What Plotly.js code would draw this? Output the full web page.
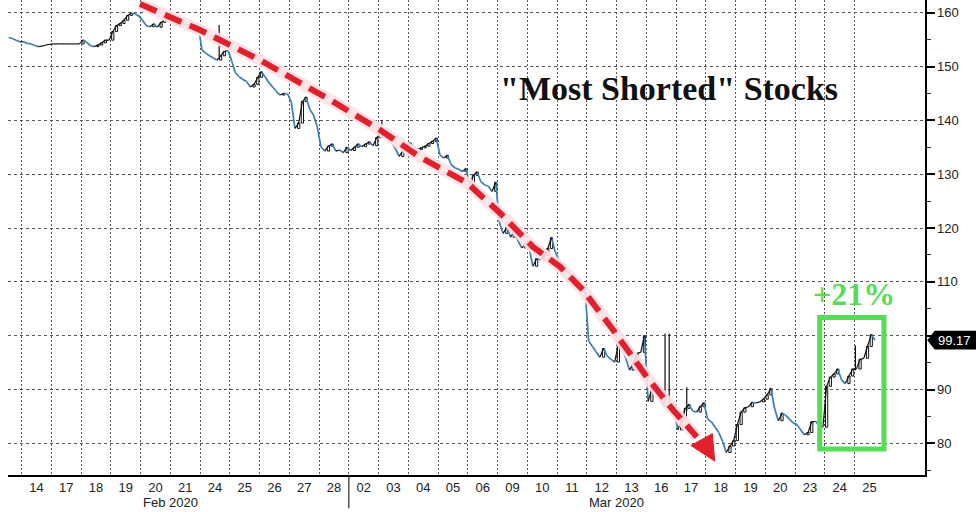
<!DOCTYPE html>
<html><head><meta charset="utf-8">
<script src="https://cdn.plot.ly/plotly-3.0.1.min.js"></script>
<style>html,body{margin:0;padding:0;background:#fff}#chart{width:976px;height:512px}</style>
</head><body><div id="chart"></div>
<script>
// ---- tick labels / categories ----
const dayLabels = ['14','17','18','19','20','21','24','25','26','27','28','02','03','04','05','06','09','10','11','12','13','16','17','18','19','20','23','24','25'];
const monthLabels = ['Feb 2020', 'Mar 2020'];
const monthCenterSession = [5, 20];
const monthBreakSession = 11;
const yTickVals = [80, 90, 100, 110, 120, 130, 140, 150, 160];
const yTickText = ['80', '90', '', '110', '120', '130', '140', '150', '160']; // 100 is hidden under the last-price tag

// ---- intraday price samples (8 per session) ----
const feb13 = [null,null,null,null,155.4,155.2,154.9,154.6];
const feb14 = [154.6,154.3,154.2,153.9,153.7,153.8,154.0,154.1];
const feb17 = [154.2,154.2,154.2,154.2,154.2,154.2,154.2,154.2];
const feb18 = [154.9,154.5,153.9,153.7,154.0,154.4,154.9,154.9];
const feb19 = [156.5,157.6,158.0,158.6,159.5,159.9,159.8,159.4];
const feb20 = [158.6,157.6,157.4,157.9,157.3,158.2,158.7,159.2];
const feb21 = [158.3,157.7,158.0,157.9,157.8,157.8,157.6,157.5];
const feb24 = [153.1,152.5,152.0,151.6,151.2,152.0,152.8,153.0];
const feb25 = [151.0,148.8,148.1,147.6,147.2,146.2,146.7,148.0];
const feb26 = [149.0,148.1,147.0,146.2,145.4,144.7,145.0,144.9];
const feb27 = [143.5,138.5,139.5,143.5,144.3,142.0,141.0,138.8];
const feb28 = [135.1,134.3,135.2,135.6,134.3,134.5,134.0,135.0];
const mar02 = [134.4,135.0,135.6,135.1,135.6,136.0,135.3,136.8];
const mar03 = [137.6,137.2,136.4,135.8,134.8,133.3,134.3,135.4];
const mar04 = [135.8,135.0,134.6,134.9,135.2,135.7,136.1,136.7];
const mar05 = [133.6,133.0,133.5,131.8,131.2,130.9,130.5,131.0];
const mar06 = [128.0,129.8,130.4,128.6,128.0,127.8,126.8,128.5];
const mar09 = [121.0,119.0,120.2,118.3,119.5,117.6,116.3,117.0];
const mar10 = [116.3,112.9,114.3,114.1,114.9,116.2,118.2,115.6];
const mar11 = [114.0,113.0,112.2,111.5,110.8,110.0,109.3,108.8];
const mar12 = [99.0,98.0,97.0,96.0,97.6,96.2,95.6,95.1];
const mar13 = [98.5,97.6,95.8,93.6,94.9,96.7,96.9,100.0];
const mar16 = [87.8,90.2,89.5,89.0,87.2,86.8,86.6,85.9];
const mar17 = [82.5,84.5,86.5,87.2,86.0,85.8,86.8,87.5];
const mar18 = [84.5,84.0,83.0,82.0,80.4,78.3,79.5,80.5];
const mar19 = [83.5,85.8,86.6,86.8,87.6,87.5,87.7,88.2];
const mar20 = [89.0,90.2,86.5,84.2,85.6,85.2,84.5,83.8];
const mar23 = [83.5,82.5,81.6,82.0,84.0,84.1,83.4,83.0];
const mar24 = [90.6,92.3,92.9,93.8,91.8,91.1,92.5,93.8];
const mar25 = [93.8,95.6,95.8,98.0,100.2,99.17,null,null];

// sessions in order; first one (Feb 13) is only partly visible
const sessions = [feb13,feb14,feb17,feb18,feb19,feb20,feb21,feb24,feb25,feb26,feb27,feb28,
  mar02,mar03,mar04,mar05,mar06,mar09,mar10,mar11,mar12,mar13,mar16,mar17,mar18,mar19,mar20,mar23,mar24,mar25];
const firstSessionIndex = -1;

// intraday wicks (session index, time of day as fraction, low, high)
const wickSession = [6, 12, 21, 21, 22, 28];
const wickTime    = [0.64, 0.11, 0.63, 0.77, 0.36, 0.03];
const wickLow     = [151.8, 137.0, 87.5, 87.5, 86.0, 93.6];
const wickHigh    = [157.7, 140.0, 100.4, 100.4, 90.4, 98.2];

const lastPrice = 99.17;

// ---- build series ----
const xs = [], ys = [];
sessions.forEach((arr, si) => {
  const n = arr.length;
  arr.forEach((v, k) => { xs.push(si + firstSessionIndex + (k + 0.5) / n); ys.push(v); });
});
const upX = [], upY = [], dnX = [], dnY = [];
const candleX = [], candleBase = [], candleLen = [];
for (let i = 1; i < xs.length; i++) {
  if (ys[i] == null || ys[i-1] == null) continue;
  const up = ys[i] >= ys[i-1];
  const tx = up ? upX : dnX, ty = up ? upY : dnY;
  tx.push(xs[i-1], xs[i], null); ty.push(ys[i-1], ys[i], null);
  if (up && ys[i] - ys[i-1] > 0.25) { candleX.push(xs[i]); candleBase.push(ys[i-1]); candleLen.push(ys[i] - ys[i-1]); }
}
const wX = [], wY = [];
wickSession.forEach((s, i) => { const x = s + wickTime[i]; wX.push(x, x, null); wY.push(wickLow[i], wickHigh[i], null); });

const BLUE = '#3a7db8';
const traces = [
  {type:'scatter', mode:'lines', x: dnX, y: dnY, line:{color:BLUE, width:1.7}, hoverinfo:'skip'},
  {type:'scatter', mode:'lines', x: upX, y: upY, line:{color:'#111', width:1.2}, hoverinfo:'skip'},
  {type:'scatter', mode:'lines', x: wX, y: wY, line:{color:'#111', width:1.2}, hoverinfo:'skip'},
  {type:'bar', x: candleX, y: candleLen, base: candleBase, width: 0.075,
   marker:{color:'#fff', line:{color:'#111', width:1}}, hoverinfo:'skip'}
];

const centers = dayLabels.map((d, i) => i + 0.5);
const bounds = dayLabels.map((d, i) => i);

// red dashed arrow (annotation drawing, in axis units)
const arrowPts = [[3.98,161.6],[5.99,156.8],[8.01,151.2],[10.37,143.8],[12.05,138.2],[13.39,133.2],[14.97,128.4],[16.08,122.8],[17.19,116.5],[18.10,112.8],[18.87,108.5],[19.88,101.1],[21.02,92.3],[21.90,86.2],[22.70,81.2]];
const arrowPath = 'M ' + arrowPts.map(p => p[0] + ' ' + p[1]).join(' L ');
const headPath = 'M 22.50 79.6 L 23.30 76.7 L 23.22 81.8 Z';

const shapes = [
  {type:'path', xref:'x', yref:'y', path: arrowPath, line:{color:'rgba(255,225,228,0.9)', width:12}, layer:'above'},
  {type:'path', xref:'x', yref:'y', path: arrowPath, line:{color:'#e0202c', width:6, dash:'18px,9px'}, layer:'above'},
  {type:'path', xref:'x', yref:'y', path: headPath, fillcolor:'#e0202c', line:{color:'#e0202c', width:1}, layer:'above'},
  // green box
  {type:'rect', xref:'x', yref:'y', x0:26.83, x1:28.99, y0:78.95, y1:103.38, line:{color:'#55dd55', width:5}, fillcolor:'rgba(0,0,0,0)', layer:'above'},
  // month separator
  {type:'line', xref:'x', yref:'paper', x0:monthBreakSession, x1:monthBreakSession, y0:0, y1:-0.07, line:{color:'#000', width:1}},
  // last price tag
  {type:'path', xref:'paper', yref:'y', path:`M 1.0025 ${lastPrice} L 1.0105 ${lastPrice+1.75} L 1.06 ${lastPrice+1.75} L 1.06 ${lastPrice-1.75} L 1.0105 ${lastPrice-1.75} Z`, fillcolor:'#000', line:{color:'#000', width:0}}
];

const annotations = [
  {xref:'x', yref:'y', x:21.77, y:146.0, text:'<b>"Most Shorted" Stocks</b>', showarrow:false, font:{family:'Liberation Serif, Times New Roman, serif', size:34, color:'#111'}},
  {xref:'x', yref:'y', x:27.98, y:107.7, text:'<b>+21%</b>', showarrow:false, font:{family:'Liberation Serif, Times New Roman, serif', size:32, color:'#55dd55'}},
  {xref:'paper', yref:'y', x:1.0115, xanchor:'left', y:lastPrice, text:lastPrice.toFixed(2), showarrow:false, font:{family:'Liberation Sans, Arial, sans-serif', size:13, color:'#fff'}},
  ...monthLabels.map((m, i) => ({xref:'x', yref:'paper', x:monthCenterSession[i], y:-0.057, yanchor:'middle', text:m, showarrow:false, font:{family:'Liberation Sans, Arial, sans-serif', size:13, color:'#222'}}))
];

const layout = {
  width:976, height:512,
  margin:{l:8, r:51, t:0, b:37},
  paper_bgcolor:'#fff', plot_bgcolor:'#fff',
  showlegend:false, bargap:0,
  xaxis:{
    range:[-0.46, 30.37], tickmode:'array', tickvals:centers, ticktext:dayLabels,
    ticks:'', showgrid:false, zeroline:false, showline:true, linecolor:'#000', linewidth:1.5,
    tickfont:{family:'Liberation Sans, Arial, sans-serif', size:13, color:'#222'},
    minor:{tickmode:'array', tickvals:bounds, showgrid:true, gridcolor:'#555', gridwidth:1, griddash:'2px,2px', ticks:''},
    fixedrange:true
  },
  yaxis:{
    side:'right', range:[74.12, 162.36], tickmode:'array', tickvals:yTickVals, ticktext:yTickText,
    ticks:'outside', ticklen:8, tickwidth:2, tickcolor:'#000',
    showline:true, linecolor:'#000', linewidth:1.5, zeroline:false,
    showgrid:true, gridcolor:'#555', gridwidth:1, griddash:'3px,3px',
    tickfont:{family:'Liberation Sans, Arial, sans-serif', size:13, color:'#222'},
    minor:{tickmode:'linear', dtick:5, tick0:75, ticks:'outside', ticklen:4, tickwidth:1, tickcolor:'#333', showgrid:false},
    fixedrange:true
  },
  shapes, annotations
};

Plotly.newPlot('chart', traces, layout, {displayModeBar:false, staticPlot:true});
</script>
</body></html>
